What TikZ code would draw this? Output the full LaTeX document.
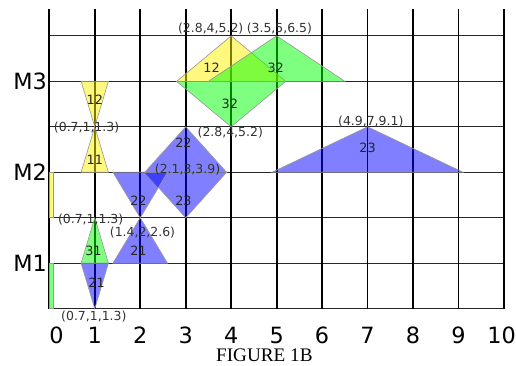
\documentclass[tikz,border=0pt]{standalone}
\usepackage{fontspec}
\setmainfont{DejaVu Sans}
\newfontfamily\capfont{Liberation Serif}

\begin{document}
\begin{tikzpicture}[
		job1/.style={fill=yellow,fill opacity=0.5,draw=gray!80,line width=0.4pt},
		job2/.style={fill=blue,fill opacity=0.5,draw=gray!80,line width=0.4pt},
		job3/.style={fill=green,fill opacity=0.5,draw=gray!80,line width=0.4pt},
		tfn/.style={font=\fontsize{7.8}{9}\selectfont,text=black!80,inner sep=0pt},
		opnum/.style={font=\fontsize{8}{9}\selectfont,text=black!85,inner sep=0pt},
		axisnum/.style={font=\fontsize{14}{16}\selectfont,inner sep=0pt}]
	\useasboundingbox (-1.084,-1.260) rectangle (10.264,6.789);
	% grid
	\foreach \y in {0,...,6}
		\draw[line width=0.7pt,black!85] (0,\y)--(10,\y);
	\foreach \x in {0,...,10}
		\draw[line width=1.1pt] (\x,0)--(\x,6.6);
	% M3
	\draw[job1] (2.8,5)--(4,6)--(5.2,5)--cycle;
	\draw[job3] (3.5,5)--(5,6)--(6.5,5)--cycle;
	\draw[job3] (2.8,5)--(4,4)--(5.2,5)--cycle;
	\draw[job1] (0.7,5)--(1,4)--(1.3,5)--cycle;
	% M2
	\draw[job1] (0.7,3)--(1,4)--(1.3,3)--cycle;
	\draw[job1] (0,2)rectangle(0.08,3);
	\draw[job2] (2.1,3)--(3,4)--(3.9,3)--cycle;
	\draw[job2] (2.1,3)--(3,2)--(3.9,3)--cycle;
	\draw[job2] (1.4,3)--(2,2)--(2.6,3)--cycle;
	\draw[job2] (4.9,3)--(7,4)--(9.1,3)--cycle;
	% M1
	\draw[job3] (0.7,1)--(1,2)--(1.3,1)--cycle;
	\draw[job2] (0.7,1)--(1,0)--(1.3,1)--cycle;
	\draw[job2] (1.4,1)--(2,2)--(2.6,1)--cycle;
	\draw[job3] (0,0)rectangle(0.08,1);
	% operation numbers
	\node[opnum] (o12a) at (3.57,5.3) {12};
	\node[opnum] (o32a) at (4.98,5.3) {32};
	\node[opnum] (o32b) at (3.97,4.5) {32};
	\node[opnum] (o12b) at (1,4.6) {12};
	\node[opnum] (o11) at (1,3.28) {11};
	\node[opnum] (o22a) at (2.95,3.64) {22};
	\node[opnum] (o23a) at (7,3.53) {23};
	\node[opnum] (o22b) at (1.96,2.37) {22};
	\node[opnum] (o23b) at (2.95,2.37) {23};
	\node[opnum] (o31) at (0.97,1.28) {31};
	\node[opnum] (o21a) at (1.96,1.28) {21};
	\node[opnum] (o21b) at (1.04,0.57) {21};
	% fuzzy times
	\node[tfn] (t12a) at (3.55,6.16) {(2.8,4,5.2)};
	\node[tfn] (t32a) at (5.06,6.16) {(3.5,5,6.5)};
	\node[tfn] (t32b) at (3.98,3.87) {(2.8,4,5.2)};
	\node[tfn] (t1112) at (0.82,3.98) {(0.7,1,1.3)};
	\node[tfn] (t23a) at (7.07,4.12) {(4.9,7,9.1)};
	\node[tfn] (t2223) at (3.04,3.05) {(2.1,3,3.9)};
	\node[tfn] (t31) at (0.91,1.95) {(0.7,1,1.3)};
	\node[tfn] (t21a) at (2.05,1.68) {(1.4,2,2.6)};
	\node[tfn] (t21b) at (0.98,-0.18) {(0.7,1,1.3)};
	% axes
	\node[axisnum] (m1) at (-0.42,1) {M1};
	\node[axisnum] (m2) at (-0.42,3) {M2};
	\node[axisnum] (m3) at (-0.42,5) {M3};
	\node[axisnum] (x0) at (0.16,-0.58) {0};
	\foreach \x in {1,...,9}
		\node[axisnum] (x\x) at (\x,-0.58) {\x};
	\node[axisnum] (x10) at (9.95,-0.58) {10};
	\node[font=\capfont\fontsize{12}{14}\selectfont,inner sep=0pt] (cap) at (4.73,-1.03) {FIGURE 1B};
\end{tikzpicture}
\end{document}
